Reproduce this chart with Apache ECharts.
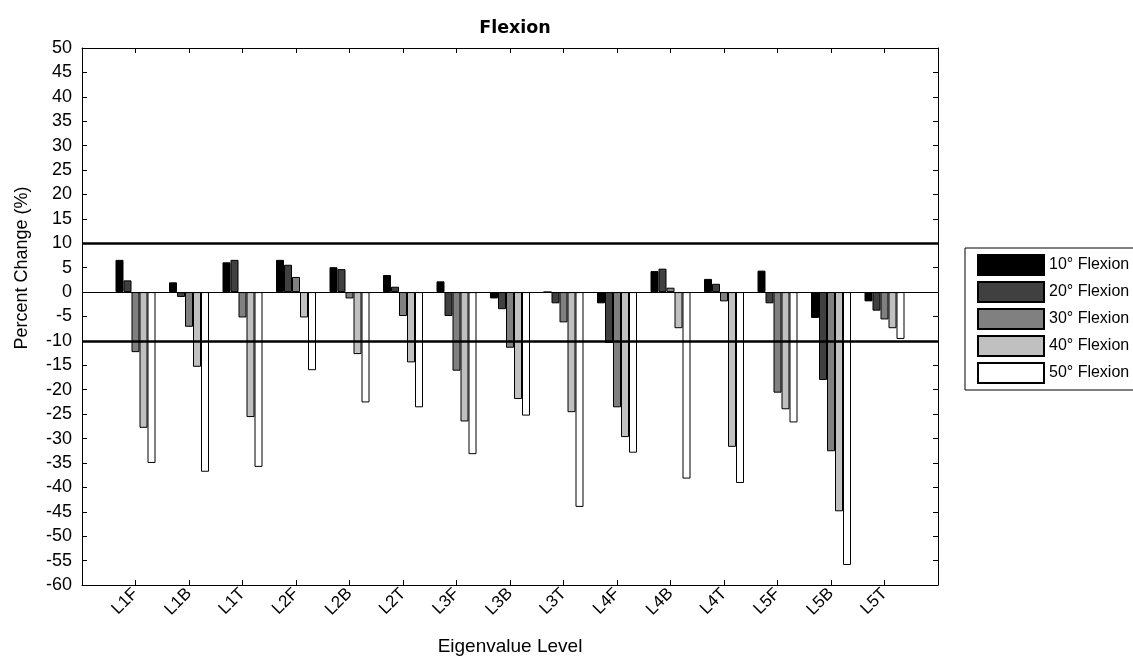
<!DOCTYPE html>
<html>
<head>
<meta charset="utf-8">
<script src="https://cdn.jsdelivr.net/npm/echarts@6/dist/echarts.min.js"></script>
<style>html,body{margin:0;padding:0;background:#fff;}#chart{width:1133px;height:661px;}</style>
</head>
<body>
<div id="chart"></div>
<script>
const categories = ['L1F','L1B','L1T','L2F','L2B','L2T','L3F','L3B','L3T','L4F','L4B','L4T','L5F','L5B','L5T'];
const seriesNames = ['10° Flexion','20° Flexion','30° Flexion','40° Flexion','50° Flexion'];
const flex10 = [6.6, 2.0, 6.1, 6.6, 5.1, 3.5, 2.2, -1.3, 0, -2.3, 4.3, 2.7, 4.4, -5.3, -1.9];
const flex20 = [2.4, -1.0, 6.6, 5.6, 4.7, 1.1, -4.9, -3.5, -2.3, -10.4, 4.8, 1.7, -2.3, -18.0, -3.8];
const flex30 = [-12.3, -7.1, -5.2, 3.1, -1.3, -4.9, -16.1, -11.4, -6.2, -23.6, 0.9, -1.9, -20.6, -32.6, -5.6];
const flex40 = [-27.8, -15.3, -25.6, -5.2, -12.7, -14.4, -26.5, -21.9, -24.6, -29.7, -7.4, -31.7, -24.0, -44.9, -7.4];
const flex50 = [-35.0, -36.8, -35.8, -16.0, -22.6, -23.6, -33.2, -25.3, -44.0, -32.9, -38.2, -39.1, -26.7, -55.9, -9.6];
const thresholdLines = [10, -10];
const yTicks = {min: -60, max: 50, interval: 5};

const colors = ['#000000', '#404040', '#808080', '#c0c0c0', '#ffffff'];
const allSeries = [flex10, flex20, flex30, flex40, flex50];
const axisCats = [''].concat(categories, ['']);
const font = 'Liberation Sans, Arial, sans-serif';

const chart = echarts.init(document.getElementById('chart'));
const barSeries = allSeries.map((vals, i) => ({
  name: seriesNames[i],
  type: 'bar',
  xAxisIndex: 0, yAxisIndex: 0,
  data: ['-'].concat(vals, ['-']),
  barWidth: 8,
  barGap: '0%',
  itemStyle: {color: colors[i], borderColor: '#000', borderWidth: 1},
  z: 2
}));
const tickShow = (i) => i > 0 && i < axisCats.length - 1;
const option = {
  animation: false,
  backgroundColor: '#fff',
  title: {
    text: 'Flexion', left: 510, top: 14, textAlign: 'center',
    textStyle: {fontFamily: 'DejaVu Sans, sans-serif', fontWeight: 'bold', fontSize: 17.5, color: '#000'}
  },
  grid: {left: 82, right: 195, top: 48, bottom: 71},
  legend: {
    data: seriesNames, orient: 'vertical', left: 965, top: 248,
    icon: 'rect', itemWidth: 66, itemHeight: 20, itemGap: 5,
    padding: [6, 60, 6, 12],
    borderColor: '#000', borderWidth: 1, backgroundColor: '#fff',
    textStyle: {fontFamily: font, fontSize: 16, color: '#000'}
  },
  xAxis: [{
    type: 'category', data: axisCats, boundaryGap: false, position: 'bottom',
    name: 'Eigenvalue Level', nameLocation: 'middle', nameGap: 52,
    nameTextStyle: {fontFamily: font, fontSize: 19, color: '#000'},
    axisLine: {onZero: false, lineStyle: {color: '#000', width: 1}},
    axisTick: {inside: true, length: 5, interval: tickShow, lineStyle: {color: '#000'}},
    axisLabel: {rotate: 45, interval: 0, fontFamily: font, fontSize: 17, color: '#000', margin: 6},
    splitLine: {show: false}
  }, {
    type: 'category', data: axisCats, boundaryGap: false, position: 'top',
    axisLine: {onZero: false, lineStyle: {color: '#000', width: 1}},
    axisTick: {inside: true, length: 5, interval: tickShow, lineStyle: {color: '#000'}},
    axisLabel: {show: false}, splitLine: {show: false}
  }],
  yAxis: [{
    type: 'value', min: yTicks.min, max: yTicks.max, interval: yTicks.interval, position: 'left',
    axisLine: {show: true, onZero: false, lineStyle: {color: '#000', width: 1}},
    axisTick: {show: true, inside: true, length: 5, lineStyle: {color: '#000'}},
    axisLabel: {fontFamily: font, fontSize: 18, color: '#000', margin: 10},
    splitLine: {show: false}
  }, {
    type: 'value', min: yTicks.min, max: yTicks.max, interval: yTicks.interval, position: 'right',
    axisLine: {show: true, onZero: false, lineStyle: {color: '#000', width: 1}},
    axisTick: {show: true, inside: true, length: 5, lineStyle: {color: '#000'}},
    axisLabel: {show: false}, splitLine: {show: false}
  }],
  graphic: [{
    type: 'text', rotation: Math.PI / 2, x: 22, y: 268,
    style: {text: 'Percent Change (%)', fontFamily: font, fontSize: 18, fill: '#000',
            align: 'center', verticalAlign: 'middle'}
  }],
  series: barSeries.concat([{
    name: 'refs', type: 'line', data: [], xAxisIndex: 0, yAxisIndex: 0, z: 10,
    markLine: {
      silent: true, symbol: ['none', 'none'], label: {show: false}, animation: false,
      data: thresholdLines.map(v => ({yAxis: v, lineStyle: {color: '#000', width: 2.5, type: 'solid'}}))
        .concat([{yAxis: 0, lineStyle: {color: '#000', width: 1, type: 'solid'}}])
    }
  }])
};
chart.setOption(option);
</script>
</body>
</html>
